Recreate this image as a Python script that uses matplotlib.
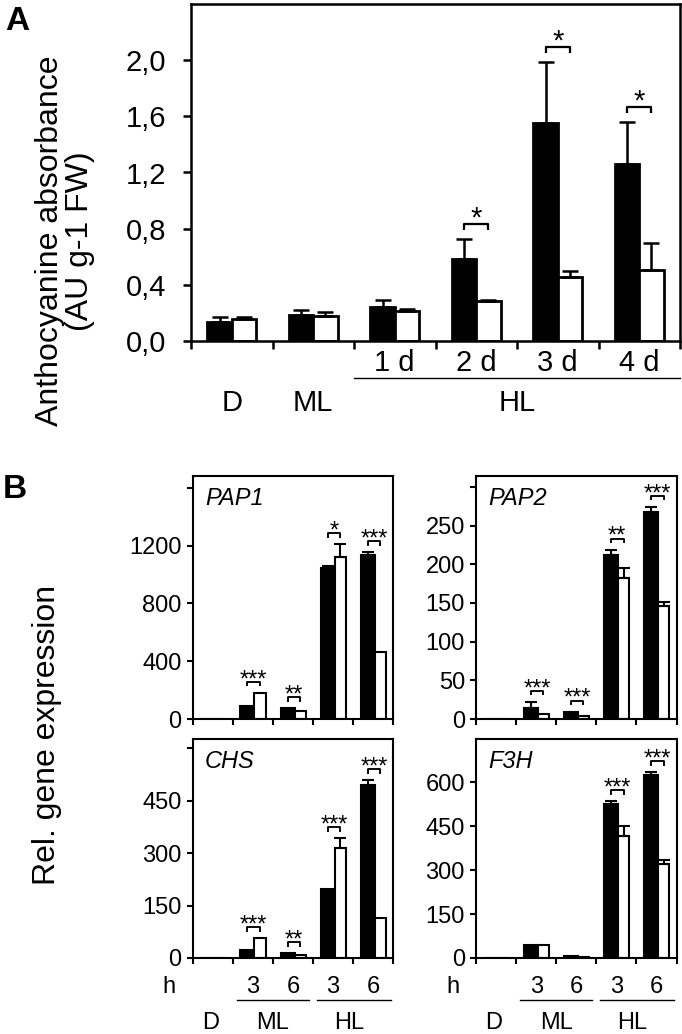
import matplotlib
matplotlib.use("Agg")
import matplotlib.pyplot as plt
from matplotlib import font_manager as fm
import numpy as np

# ---------------- data ----------------
a_groups = ["D", "ML", "1 d", "2 d", "3 d", "4 d"]
a_black = [0.136, 0.183, 0.240, 0.587, 1.553, 1.258]
a_black_err = [0.033, 0.041, 0.050, 0.138, 0.435, 0.300]
a_white = [0.157, 0.180, 0.216, 0.288, 0.459, 0.504]
a_white_err = [0.012, 0.025, 0.012, 0.004, 0.038, 0.193]
a_sig = ["", "", "", "*", "*", "*"]
a_yticks = [0.0, 0.4, 0.8, 1.2, 1.6, 2.0]

b_hours = ["", "3", "6", "3", "6"]
b_genes = ["PAP1", "PAP2", "CHS", "F3H"]
pap1_black = [3, 88, 76, 1045, 1137]
pap1_black_err = [0, 0, 0, 12, 16]
pap1_white = [3, 180, 58, 1121, 461]
pap1_white_err = [0, 0, 0, 90, 0]
pap1_sig = ["", "***", "**", "*", "***"]
pap2_black = [0.6, 14.5, 9.4, 212, 268]
pap2_black_err = [0, 7.5, 0, 7, 6]
pap2_white = [0.5, 7, 4.3, 182.5, 146]
pap2_white_err = [0, 0, 0, 12.5, 5]
pap2_sig = ["", "***", "***", "**", "***"]
chs_black = [1, 22, 14, 197, 495]
chs_black_err = [0, 0, 0, 0, 14]
chs_white = [1, 57, 8, 315, 115]
chs_white_err = [0, 0, 0, 28, 0]
chs_sig = ["", "***", "**", "***", "***"]
f3h_black = [1, 45, 8, 526, 625]
f3h_black_err = [0, 0, 0, 8, 8]
f3h_white = [1, 43, 5, 415, 321]
f3h_white_err = [0, 0, 0, 36, 14]
f3h_sig = ["", "", "", "***", "***"]
pap1_ticks = [0, 400, 800, 1200, 1600]
pap2_ticks = [0, 50, 100, 150, 200, 250, 300]
chs_ticks = [0, 150, 300, 450, 600]
f3h_ticks = [0, 150, 300, 450, 600]

# ---------------- fonts ----------------
avail = {f.name for f in fm.fontManager.ttflist}
NARROW = ["Liberation Sans Narrow"] if "Liberation Sans Narrow" in avail else []
REG = ["Liberation Sans", "DejaVu Sans"]
plt.rcParams["font.family"] = REG
narrow = NARROW + REG

W, H = 682, 1034
fig = plt.figure(figsize=(W / 100, H / 100), dpi=100)


def ax_px(l, t, r, b):
    return fig.add_axes([l / W, 1 - b / H, (r - l) / W, (b - t) / H])


def draw_pair(ax, xb, wb, xw, ww, black, berr, white, werr, sig, lw, cap, elw,
              ax_h_px, off_px, tick_px, star_fs, fam, star_dy):
    ylim = ax.get_ylim()[1]
    ax.bar(xb, black, width=wb, align="edge", color="black", edgecolor="black",
           linewidth=lw, zorder=2)
    ax.bar(xw, white, width=ww, align="edge", color="white", edgecolor="black",
           linewidth=lw, zorder=2)
    cb = np.array(xb) + wb / 2
    cw = np.array(xw) + ww / 2
    for x, v, e in zip(cb, black, berr):
        if e > 0:
            ax.errorbar(x, v, yerr=[[0], [e]], fmt="none", ecolor="black",
                        elinewidth=elw, capsize=cap, capthick=elw, zorder=3)
    for x, v, e in zip(cw, white, werr):
        if e > 0:
            ax.errorbar(x, v, yerr=[[0], [e]], fmt="none", ecolor="black",
                        elinewidth=elw, capsize=cap, capthick=elw, zorder=3)
    unit = ylim / ax_h_px
    for i, s in enumerate(sig):
        if not s:
            continue
        top = max(black[i] + berr[i], white[i] + werr[i])
        h = top + off_px * unit
        d = tick_px * unit
        ax.plot([cb[i], cb[i], cw[i], cw[i]], [h - d, h, h, h - d], color="black",
                lw=elw * 0.9, clip_on=False, zorder=3, solid_capstyle="butt")
        mid = (cb[i] + cw[i]) / 2
        ax.annotate(s, xy=(mid, h), xytext=(0, star_dy), textcoords="offset points",
                    ha="center", va="baseline", fontsize=star_fs, family=fam,
                    annotation_clip=False)


# ---------------- panel A ----------------
axA = ax_px(191, 4, 680, 341)
axA.set_xlim(0, 6)
axA.set_ylim(0, 2.4)
n = len(a_groups)
idx = np.arange(n)
draw_pair(axA, idx + 0.2, 0.3, idx + 0.5, 0.3, a_black, a_black_err, a_white,
          a_white_err, a_sig, lw=2.0, cap=6, elw=1.8, ax_h_px=337, off_px=15,
          tick_px=6, star_fs=21, fam=narrow, star_dy=-2)
axA.set_xticks(np.arange(n + 1))
axA.set_xticklabels([])
axA.set_yticks(a_yticks)
axA.set_yticklabels([f"{v:.1f}".replace(".", ",") for v in a_yticks],
                    fontsize=21, family=narrow)
axA.tick_params(axis="y", direction="out", length=6, width=1.8, pad=12)
axA.tick_params(axis="x", direction="out", length=6, width=1.8)
for sp in axA.spines.values():
    sp.set_linewidth(1.8)
tA = axA.get_xaxis_transform()
for i, g in enumerate(a_groups):
    if i >= 2:
        axA.text(i + 0.5, -0.065, g, transform=tA, ha="center", va="center",
                 fontsize=21, family=narrow, clip_on=False)
axA.plot([2, 6], [-0.11, -0.11], transform=tA, color="black", lw=1.0, clip_on=False)
axA.text(0.5, -0.184, a_groups[0], transform=tA, ha="center", va="center",
         fontsize=21, family=narrow)
axA.text(1.5, -0.184, a_groups[1], transform=tA, ha="center", va="center",
         fontsize=21, family=narrow)
axA.text(4.0, -0.184, "HL", transform=tA, ha="center", va="center",
         fontsize=21, family=narrow)
fig.text(65 / W, 1 - 241 / H, "Anthocyanine absorbance\n(AU g-1 FW)",
         rotation=90, ha="center", va="center", multialignment="center",
         fontsize=23, linespacing=1.0)
fig.text(17 / W, 1 - 21 / H, "A", ha="center", va="center", fontsize=24,
         fontweight="bold")

# ---------------- panel B ----------------
b_data = [
    (pap1_black, pap1_black_err, pap1_white, pap1_white_err, pap1_sig, pap1_ticks, 1682, True),
    (pap2_black, pap2_black_err, pap2_white, pap2_white_err, pap2_sig, pap2_ticks, 314, True),
    (chs_black, chs_black_err, chs_white, chs_white_err, chs_sig, chs_ticks, 627, True),
    (f3h_black, f3h_black_err, f3h_white, f3h_white_err, f3h_sig, f3h_ticks, 747, False),
]
boxes = [(192.7, 476, 393.3, 719), (476, 476, 676.5, 719),
         (192.7, 739, 393.3, 958), (476, 739, 676.5, 958)]
nb = len(b_hours)
jdx = np.arange(nb)
for k, (bl, ble, wh, whe, sg, tks, ytop, hide_top) in enumerate(b_data):
    l, t, r, b = boxes[k]
    ax = ax_px(l, t, r, b)
    ax.set_xlim(0, nb)
    ax.set_ylim(0, ytop)
    draw_pair(ax, jdx + 0.19, 0.35, jdx + 0.54, 0.28, bl, ble, wh, whe, sg,
              lw=1.5, cap=4.2, elw=1.5, ax_h_px=b - t, off_px=11, tick_px=4.5,
              star_fs=17, fam=REG, star_dy=-3)
    ax.set_xticks(np.arange(nb + 1))
    ax.set_xticklabels([])
    ax.set_yticks(tks)
    labels = [str(v) for v in tks]
    if hide_top:
        labels[-1] = ""
    ax.set_yticklabels(labels, fontsize=17)
    ax.tick_params(axis="both", direction="out", length=4.5, width=1.5, pad=3.5)
    for sp in ax.spines.values():
        sp.set_linewidth(1.5)
    ax.annotate(b_genes[k], xy=(0, 1), xycoords="axes fraction", xytext=(9, -16),
                textcoords="offset points", ha="left", va="center", fontsize=17,
                style="italic")
    if k >= 2:
        tr = ax.get_xaxis_transform()
        ax.text(-0.58, -0.132, "h", transform=tr, ha="center", va="center",
                fontsize=17, clip_on=False)
        for j in range(1, nb):
            ax.text(j + 0.5, -0.132, b_hours[j], transform=tr, ha="center",
                    va="center", fontsize=17, clip_on=False)
        ax.plot([1.1, 2.9], [-0.19, -0.19], transform=tr, color="black", lw=1.0,
                clip_on=False)
        ax.plot([3.1, 4.95], [-0.19, -0.19], transform=tr, color="black", lw=1.0,
                clip_on=False)
        ax.text(0.45, -0.297, "D", transform=tr, ha="center", va="center",
                fontsize=17, clip_on=False)
        ax.text(2.0, -0.297, "ML", transform=tr, ha="center", va="center",
                fontsize=17, clip_on=False)
        ax.text(3.9, -0.297, "HL", transform=tr, ha="center", va="center",
                fontsize=17, clip_on=False)

fig.text(47 / W, 1 - 735 / H, "Rel. gene expression", rotation=90, ha="center",
         va="center", fontsize=23)
fig.text(15 / W, 1 - 490 / H, "B", ha="center", va="center", fontsize=24,
         fontweight="bold")

fig.savefig("out.png", dpi=100)
